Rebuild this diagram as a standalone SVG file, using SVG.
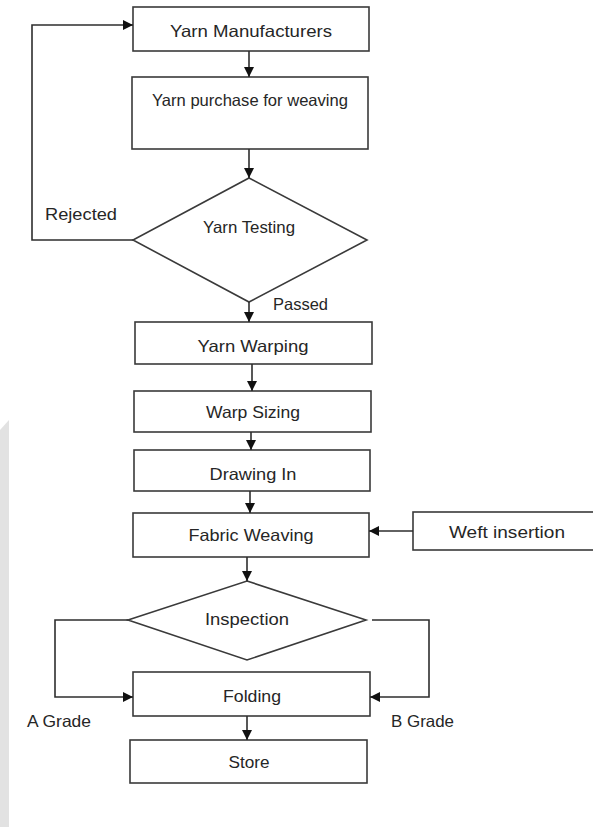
<svg xmlns="http://www.w3.org/2000/svg" width="593" height="827" viewBox="0 0 593 827">
<style>
.box{fill:#fff;stroke:#3a3a3a;stroke-width:1.6}
.t{font-family:"Liberation Sans",Arial,sans-serif;font-size:16.5px;fill:#262626;text-anchor:middle}
.l{font-family:"Liberation Sans",Arial,sans-serif;font-size:16.5px;fill:#262626}
.c{fill:none;stroke:#2e2e2e;stroke-width:1.6}
</style>
<defs>
<marker id="ah" viewBox="0 0 10 10" refX="10" refY="5" markerWidth="10" markerHeight="10" markerUnits="userSpaceOnUse" orient="auto">
<path d="M0,0 L10,5 L0,10 Z" fill="#111"/>
</marker>
</defs>
<rect width="593" height="827" fill="#fff"/>
<polygon points="0,430 9,420 9,827 0,827" fill="#e2e2e2"/>
<g id="n1"><rect class="box" x="133" y="7" width="236" height="44"/><text class="t" x="251" y="37" textLength="162" lengthAdjust="spacingAndGlyphs">Yarn Manufacturers</text></g>
<g id="n2"><rect class="box" x="132" y="77" width="236" height="72"/><text class="t" x="250" y="106" textLength="196" lengthAdjust="spacingAndGlyphs">Yarn purchase for weaving</text></g>
<g id="n3"><polygon class="box" points="249,178 367,240 249,302 133,240"/><text class="t" x="249" y="233" textLength="92" lengthAdjust="spacingAndGlyphs">Yarn Testing</text></g>
<g id="n4"><rect class="box" x="135" y="322" width="237" height="42"/><text class="t" x="253" y="352" textLength="111" lengthAdjust="spacingAndGlyphs">Yarn Warping</text></g>
<g id="n5"><rect class="box" x="134" y="391" width="237" height="41"/><text class="t" x="253" y="418" textLength="94" lengthAdjust="spacingAndGlyphs">Warp Sizing</text></g>
<g id="n6"><rect class="box" x="134" y="450" width="236" height="41"/><text class="t" x="253" y="480" textLength="87" lengthAdjust="spacingAndGlyphs">Drawing In</text></g>
<g id="n7"><rect class="box" x="133" y="513" width="236" height="44"/><text class="t" x="251" y="541" textLength="125" lengthAdjust="spacingAndGlyphs">Fabric Weaving</text></g>
<g id="n8"><rect class="box" x="413" y="512" width="185" height="38"/><text class="t" x="507" y="538" textLength="116" lengthAdjust="spacingAndGlyphs">Weft insertion</text></g>
<g id="n9"><polygon class="box" points="247,581 366,620 247,660 128,620"/><text class="t" x="247" y="625" textLength="84" lengthAdjust="spacingAndGlyphs">Inspection</text></g>
<g id="n10"><rect class="box" x="133" y="672" width="237" height="44"/><text class="t" x="252" y="702" textLength="58" lengthAdjust="spacingAndGlyphs">Folding</text></g>
<g id="n11"><rect class="box" x="130" y="740" width="237" height="43"/><text class="t" x="249" y="768" textLength="41" lengthAdjust="spacingAndGlyphs">Store</text></g>
<g id="connectors">
<line class="c" x1="249" y1="51" x2="249" y2="77" marker-end="url(#ah)"/>
<line class="c" x1="249" y1="149" x2="249" y2="178" marker-end="url(#ah)"/>
<polyline class="c" points="133,240 32,240 32,25 133,25" marker-end="url(#ah)"/>
<line class="c" x1="249" y1="302" x2="249" y2="322" marker-end="url(#ah)"/>
<line class="c" x1="252" y1="364" x2="252" y2="391" marker-end="url(#ah)"/>
<line class="c" x1="251" y1="432" x2="251" y2="450" marker-end="url(#ah)"/>
<line class="c" x1="250" y1="491" x2="250" y2="513" marker-end="url(#ah)"/>
<line class="c" x1="413" y1="531" x2="369" y2="531" marker-end="url(#ah)"/>
<line class="c" x1="247" y1="557" x2="247" y2="581" marker-end="url(#ah)"/>
<polyline class="c" points="128,620 55,620 55,697 133,697" marker-end="url(#ah)"/>
<polyline class="c" points="372,620 429,620 429,697 370,697" marker-end="url(#ah)"/>
<line class="c" x1="247" y1="716" x2="247" y2="740" marker-end="url(#ah)"/>
</g>
<g id="labels">
<text class="l" x="45" y="220" textLength="72" lengthAdjust="spacingAndGlyphs">Rejected</text>
<text class="l" x="273" y="310" textLength="55" lengthAdjust="spacingAndGlyphs">Passed</text>
<text class="l" x="27" y="727" textLength="64" lengthAdjust="spacingAndGlyphs">A Grade</text>
<text class="l" x="391" y="727" textLength="63" lengthAdjust="spacingAndGlyphs">B Grade</text>
</g>
</svg>
